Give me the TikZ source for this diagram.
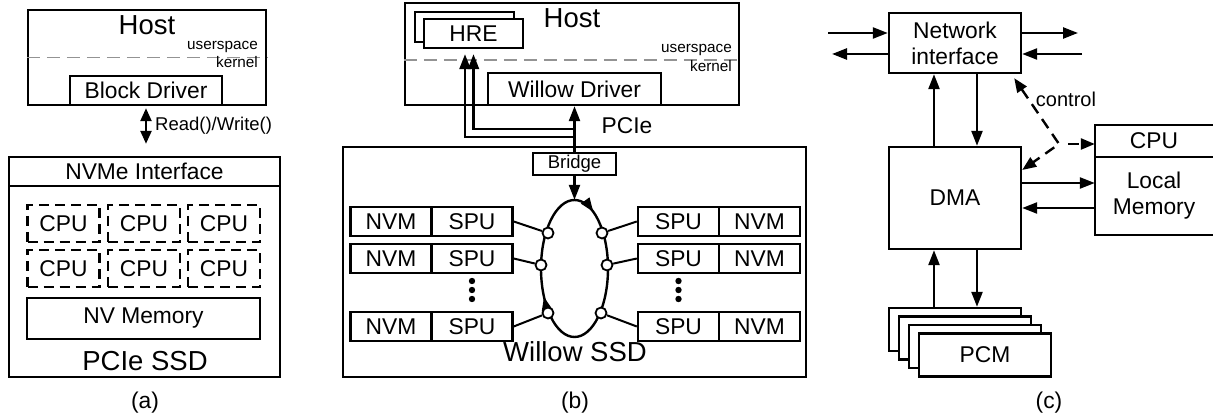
\documentclass[tikz,border=0pt]{standalone}
\usepackage{fontspec}
\setmainfont{Liberation Sans}
\usetikzlibrary{arrows.meta,shapes.geometric,decorations.markings}

\tikzset{
  big/.style={font=\fontsize{27.5}{31}\selectfont},
  mid/.style={font=\fontsize{22.8}{26}\selectfont},
  small/.style={font=\fontsize{15.3}{17}\selectfont},
  note/.style={font=\fontsize{18.5}{21}\selectfont},
  box/.style={draw, line width=2.4pt, inner sep=0pt, minimum width=#1},
  cpubox/.style={box=72, minimum height=37, dash pattern=on 10pt off 6pt},
  cell/.style={box=81, minimum height=29, mid},
  boxline/.style={line width=2.4pt},
  sep/.style={draw=gray!85, line width=1.4pt, dash pattern=on 13pt off 7pt},
  arr/.style={line width=2.4pt, -{Triangle[length=15pt,width=11pt]}},
  dbl/.style={line width=2.4pt, {Triangle[length=13pt,width=11pt]}-{Triangle[length=13pt,width=11pt]}},
  ctl/.style={line width=2.4pt, dash pattern=on 11pt off 7pt},
  port/.style={circle, draw, fill=white, line width=1.8pt, minimum size=11pt, inner sep=0pt},
  link/.style={line width=2pt},
  ringpath/.style={line width=2.4pt, postaction={decorate}, decoration={markings,
      mark=at position 0.414 with {\arrow{Triangle[length=14pt,width=10pt]}},
      mark=at position 0.82 with {\arrow{Triangle[length=14pt,width=10pt]}}}}
}

\begin{document}
\begin{tikzpicture}[x=1pt, y=-1pt]
        \useasboundingbox (0, 0) rectangle (1213, 419);

        % (a) host and block driver
        \node (hostA) at (147, 57.5) [box=238, minimum height=95] {};
        \node (hostAtxt) at (147, 25) [big] {Host};
        \draw[sep] (hostA.west) -- (hostA.east);
        \node (usrA) at (258, 50) [small, anchor=base east, inner sep=0pt] {userspace};
        \node (kerA) at (258, 68) [small, anchor=base east, inner sep=0pt] {kernel};
        \node (drvA) at (146, 90.5) [box=152, minimum height=29, mid] {Block Driver};
        % (a) PCIe SSD
        \node (ssdA) at (144.5, 267) [box=271, minimum height=220] {};
        \node (nvmeA) at (144.5, 171.5) [box=271, minimum height=29, mid] {NVMe Interface};
        \foreach \x [count=\i] in {63.5, 144, 224}
          \foreach \y [count=\j] in {223.5, 268.5}
            \node (cpu\i\j) at (\x, \y) [cpubox, mid] {CPU};
        \node (nvmA) at (143.5, 318.5) [box=233, minimum height=41, mid] {NV Memory};
        \node (ssdAtxt) at (145, 361) [big] {PCIe SSD};
        \draw[dbl, shorten <=2pt, shorten >=12pt] (drvA.south) -- (drvA.south |- ssdA.north);
        \node (rw) at (155, 126) [note, anchor=west, inner sep=0pt] {Read()/Write()};
        \node (capA) at (145, 403) [mid] {(a)};

        % (b) host side
        \node (hostB) at (572, 54) [box=334, minimum height=102] {};
        \node (hostBtxt) at (572, 18.5) [big] {Host};
        \node (hreB) at (464.5, 27) [box=99, minimum height=30, fill=white] {};
        \node (hre) at (473.5, 33.5) [box=99, minimum height=29, fill=white, mid] {HRE};
        \draw[sep] ([yshift=-6pt]hostB.west) -- ([yshift=-6pt]hostB.east);
        \node (usrB) at (732, 53) [small, anchor=base east, inner sep=0pt] {userspace};
        \node (kerB) at (732, 72) [small, anchor=base east, inner sep=0pt] {kernel};
        \node (drvB) at (574.5, 89) [box=173, minimum height=32, mid] {Willow Driver};
        % (b) Willow SSD
        \node (ssdB) at (574.5, 262) [box=463, minimum height=230] {};
        \node (bridge) at (574.5, 164) [box=83, minimum height=22, note] {Bridge};
        \node (pcie) at (627, 126) [mid] {PCIe};
        \coordinate (tapO) at (574.5, 137);
        \coordinate (tapI) at (574.5, 129);
        \draw[arr] (bridge.north) -- (drvB.south);
        \draw[arr, shorten >=5pt] (tapO) -| ([xshift=-8.5pt]hre.south);
        \draw[arr, shorten >=5pt] (tapI) -| (hre.south);
        % ring network
        \node (ring) at (574.5, 268.5) [ellipse, minimum width=67, minimum height=137, inner sep=0pt] {};
        \draw[ringpath] (ring.center) ellipse [x radius=33.5, y radius=68.5];
        \draw[arr] (bridge.south) -- (ring.north);
        \foreach \y [count=\i] in {221.5, 258.5, 326.5} {
          \node (nvml\i) at (391, \y) [cell] {NVM};
          \node (spul\i) at (472, \y) [cell] {SPU};
          \node (spur\i) at (678.5, \y) [cell] {SPU};
          \node (nvmr\i) at (759.5, \y) [cell] {NVM};
        }
        \node (pl1) at (548, 233) [port] {};
        \node (pl2) at (541, 265) [port] {};
        \node (pl3) at (548, 313) [port] {};
        \node (pr1) at (602, 233) [port] {};
        \node (pr2) at (607, 265) [port] {};
        \node (pr3) at (601, 313) [port] {};
        \foreach \i in {1, 2, 3} {
          \draw[link] (spul\i.east) -- (pl\i);
          \draw[link] (pr\i) -- (spur\i.west);
        }
        \foreach \x in {472, 678.5}
          \foreach \y in {281, 290, 299}
            \fill (\x, \y) circle (3.2pt);
        \node (ssdBtxt) at (575, 352) [big] {Willow SSD};
        \node (capB) at (575, 403) [mid] {(b)};

        % (c) blocks
        \node (ni) at (955, 43) [box=132, minimum height=60, mid, align=center] {Network\\interface};
        \node (dma) at (955, 198) [box=132, minimum height=102, mid] {DMA};
        \node (cpuC) at (1154, 141) [minimum width=118, minimum height=32, inner sep=0pt, mid] {CPU};
        \node (mem) at (1154, 196) [minimum width=118, minimum height=78, inner sep=0pt, mid, align=center] {Local\\Memory};
        \draw[boxline] (cpuC.north east) -- (cpuC.north west) -- (mem.south west) -- (mem.south east);
        \draw[boxline] (cpuC.south west) -- (cpuC.south east);
        \foreach \i in {1, 2, 3}
          \node (pcm\i) at ({945 + 10*\i}, {321 + 8.5*\i}) [box=132, minimum height=43, fill=white] {};
        \node (pcm4) at (985, 355) [box=132, minimum height=43, fill=white, mid] {PCM};
        % (c) links
        \coordinate (inL) at (828, 33);
        \coordinate (outL) at (832, 54);
        \coordinate (outR) at (1078, 33);
        \coordinate (inR) at (1082, 54);
        \draw[arr] (inL) -- (inL -| ni.west);
        \draw[arr] (outL -| ni.west) -- (outL);
        \draw[arr] (outR -| ni.east) -- (outR);
        \draw[arr] (inR) -- (inR -| ni.east);
        \draw[arr] ([xshift=-21pt]dma.north) -- ([xshift=-21pt]ni.south);
        \draw[arr] ([xshift=22pt]ni.south) -- ([xshift=22pt]dma.north);
        \coordinate (d2m) at ([yshift=15pt]dma.east);
        \coordinate (m2d) at ([yshift=-10pt]dma.east);
        \draw[arr] (d2m) -- (d2m -| mem.west);
        \draw[arr] (m2d -| mem.west) -- (m2d);
        \draw[arr] ([xshift=-21pt]pcm1.north) -- ([xshift=-21pt]dma.south);
        \draw[arr] ([xshift=22pt]dma.south) -- ([xshift=22pt]pcm1.north);
        % control path
        \coordinate (junc) at (1059, 144);
        \coordinate (ctlN) at ([xshift=-8pt, yshift=-4pt]ni.south east);
        \coordinate (ctlD) at ([yshift=28pt]dma.east);
        \draw[ctl, {Triangle[length=14pt,width=11pt]}-{Triangle[length=14pt,width=11pt]}] (ctlN) -- (junc) -- (ctlD);
        \draw[ctl, -{Triangle[length=14pt,width=11pt]}] ([xshift=9pt]junc) -- (junc -| cpuC.west);
        \node (ctltxt) at (1066, 99) [font=\fontsize{20}{24}\selectfont] {control};
        \node (capC) at (1049, 403) [mid] {(c)};
    \end{tikzpicture}
\end{document}
